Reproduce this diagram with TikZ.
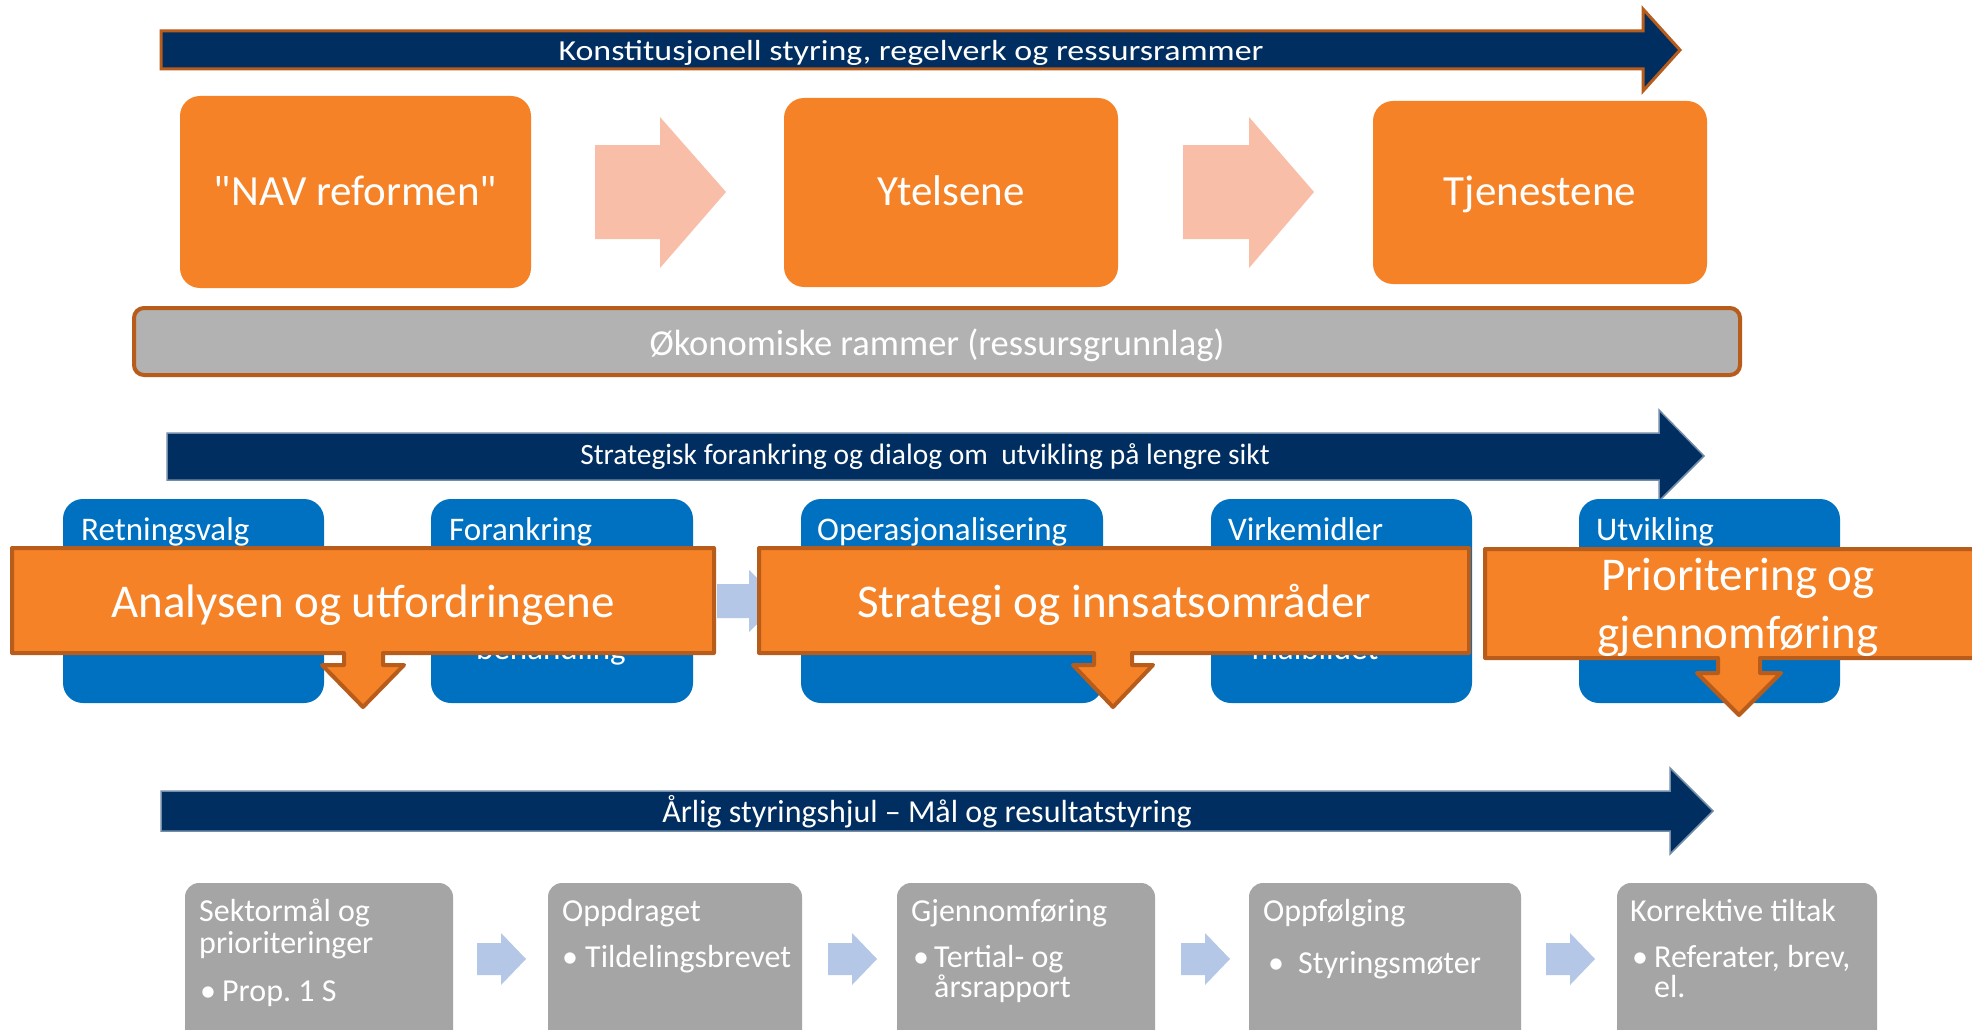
\documentclass[tikz,border=0pt]{standalone}
\usepackage{fontspec}
\setmainfont{Carlito}[Ligatures=TeXOff]
\definecolor{orng}{RGB}{245,130,38}
\definecolor{brn}{RGB}{183,92,27}
\definecolor{navy}{RGB}{0,46,96}
\definecolor{gbar}{RGB}{178,178,178}
\definecolor{gbox}{RGB}{165,165,165}
\definecolor{bbox}{RGB}{0,112,192}
\definecolor{pinkar}{RGB}{248,190,168}
\definecolor{lblue}{RGB}{180,199,231}
\newcommand\fsz[1]{\fontsize{#1}{#1}\selectfont}
\frenchspacing
\begin{document}
\begin{tikzpicture}[x=1pt,y=-1pt,
  obox/.style={fill=orng, rounded corners=20, text=white, font=\fsz{43}, inner sep=0, text height=30, text depth=4},
  bluebox/.style={fill=bbox, rounded corners=20, inner sep=0},
  greybox/.style={fill=gbox, rounded corners=14, inner sep=0},
  wtitle/.style={text=white, anchor=base west, inner sep=0, font=\fsz{33}},
  btxt/.style={text=white, anchor=base west, inner sep=0, font=\fsz{32}},
  callout/.style={fill=orng, draw=brn, line width=4, line join=round},
  calltext/.style={text=white, font=\fontsize{47}{58}\selectfont, align=center, inner sep=0},
  navyarrow/.style={fill=navy},
  arrtext/.style={text=white, inner sep=0},
  pinkarrow/.style={fill=pinkar},
  lbarrow/.style={fill=lblue}]
\clip (0,0) rectangle (1972,1030);
\fill[white] (0,0) rectangle (1972,1030);

% top arrow
\path[navyarrow, draw=brn, line width=3] (161,31) -- (1643,31) -- (1643,9) -- (1680,50) -- (1643,91) -- (1643,69) -- (161,69) -- cycle;
\node[arrtext, font=\fsz{29}] (konst) at (911,52.5) {\scalebox{1.17}[1]{Konstitusjonell styring, regelverk og ressursrammer}};

% top orange boxes
\node[obox, minimum width=351, minimum height=192] (nav) at (355.5,192) {"NAV reformen"};
\node[obox, minimum width=334, minimum height=189] (ytel) at (951,192.5) {Ytelsene};
\node[obox, minimum width=334, minimum height=183] (tjen) at (1540,192.5) {Tjenestene};

% pink arrows
\path[pinkarrow] (595,145) -- (660,145) -- (660,117) -- (726,192) -- (660,268) -- (660,239) -- (595,239) -- cycle;
\path[pinkarrow] (1183,145) -- (1249,145) -- (1249,117) -- (1314,192) -- (1249,268) -- (1249,239) -- (1183,239) -- cycle;

% grey bar
\draw[fill=gbar, draw=brn, line width=4, rounded corners=10] (134,308) rectangle (1740,375);
\node[arrtext, font=\fsz{36.5}] (okon) at (937,345) {Økonomiske rammer (ressursgrunnlag)};

% strategic arrow
\path[navyarrow, draw=navy!55!white, line width=1.5] (167,433) -- (1659,433) -- (1659,410) -- (1704,456) -- (1659,501) -- (1659,480) -- (167,480) -- cycle;
\node[arrtext, font=\fsz{29.5}] (strat) at (925,457) {Strategisk forankring og dialog om\ \ utvikling på lengre sikt};

% blue boxes
\node[bluebox, minimum width=261, minimum height=204] (ret) at (193.5,601) {};
\node[bluebox, minimum width=262, minimum height=204] (for) at (562,601) {};
\node[bluebox, minimum width=302, minimum height=204] (ope) at (952,601) {};
\node[bluebox, minimum width=261, minimum height=204] (vir) at (1341.5,601) {};
\node[bluebox, minimum width=261, minimum height=204] (utv) at (1709.5,601) {};
\node[wtitle] (rett) at (81,540.5) {Retningsvalg};
\node[wtitle] (fort) at (449,540.5) {Forankring};
\node[wtitle] (opet) at (817,540.5) {Operasjonalisering};
\node[wtitle] (virt) at (1228,540.5) {Virkemidler};
\node[wtitle] (utvt) at (1596,540.5) {Utvikling};
\node[wtitle, anchor=base] (beh) at (551,659) {behandling};
\node[wtitle, anchor=base] (maal) at (1315,659) {målbildet};

% light blue arrow between blue boxes (partly hidden)
\path[lbarrow] (717,584) -- (749,584) -- (749,570) -- (781,601) -- (749,632) -- (749,618) -- (717,618) -- cycle;

% orange callouts
\path[callout] (12,548) -- (714,548) -- (714,653) -- (383,653) -- (383,665) -- (404,665) -- (363,707) -- (322,665) -- (344,665) -- (344,653) -- (12,653) -- cycle;
\node[calltext] (anal) at (363,605) {Analysen og utfordringene};
\path[callout] (759,548) -- (1469,548) -- (1469,653) -- (1132,653) -- (1132,665) -- (1153,665) -- (1113,707) -- (1073,665) -- (1094,665) -- (1094,653) -- (759,653) -- cycle;
\node[calltext] (strg) at (1114,605) {Strategi og innsatsområder};
\path[callout] (1485,549) -- (1995,549) -- (1995,658) -- (1760,658) -- (1760,673) -- (1781,673) -- (1739,715) -- (1697,673) -- (1718,673) -- (1718,658) -- (1485,658) -- cycle;
\node[calltext] (prio) at (1738,607) {Prioritering og\\gjennomføring};

% bottom arrow
\path[navyarrow, draw=navy!55!white, line width=1.5] (161,791) -- (1670,791) -- (1670,768) -- (1713,811) -- (1670,854) -- (1670,831) -- (161,831) -- cycle;
\node[arrtext, font=\fsz{32}] (aarlig) at (927,812) {Årlig styringshjul – Mål og resultatstyring};

% bottom grey boxes
\node[greybox, minimum width=268, minimum height=180] (g1) at (319,973) {};
\node[greybox, minimum width=254, minimum height=180] (g2) at (675,973) {};
\node[greybox, minimum width=258, minimum height=180] (g3) at (1026,973) {};
\node[greybox, minimum width=272, minimum height=180] (g4) at (1385,973) {};
\node[greybox, minimum width=260, minimum height=180] (g5) at (1747,973) {};

\node[btxt] (g1a) at (199,921) {Sektormål og};
\node[btxt] (g1b) at (199,953) {prioriteringer};
\node[btxt] (g1c) at (200,1001) {•};
\node[btxt] (g1d) at (222,1001) {Prop. 1 S};

\node[btxt] (g2a) at (562,921) {Oppdraget};
\node[btxt] (g2c) at (562,967) {•};
\node[btxt] (g2d) at (585,967) {Tildelingsbrevet};

\node[btxt] (g3a) at (911,921) {Gjennomføring};
\node[btxt] (g3c) at (913,967) {•};
\node[btxt] (g3d) at (934,967) {Tertial- og};
\node[btxt] (g3e) at (934,997) {årsrapport};

\node[btxt] (g4a) at (1263,921) {Oppfølging};
\node[btxt] (g4c) at (1268,973) {•};
\node[btxt] (g4d) at (1298,973) {Styringsmøter};

\node[btxt] (g5a) at (1630,921) {Korrektive tiltak};
\node[btxt] (g5c) at (1632,967) {•};
\node[btxt] (g5d) at (1654,967) {Referater, brev,};
\node[btxt] (g5e) at (1654,997) {el.};

% light blue arrows between grey boxes
\foreach \L in {477, 828, 1181, 1546}{
  \path[lbarrow] (\L,943) -- ++(24,0) -- ++(0,-10) -- ++(25,26) -- ++(-25,26) -- ++(0,-10) -- ++(-24,0) -- cycle;
}
\end{tikzpicture}
\end{document}
